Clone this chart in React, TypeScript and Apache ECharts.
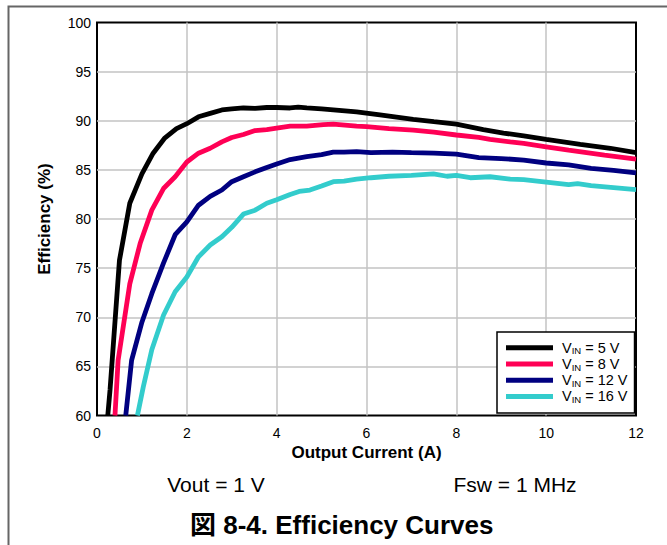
import React, { useEffect, useRef } from "react";
import * as echarts from "echarts";

const vinLabels = ["5", "8", "12", "16"];
const seriesColors = ["#000000", "#FF0055", "#000080", "#33CCCC"];

const vin5: [number, number][] = [
  [0.24, 60], [0.29, 62.6], [0.5, 75.8], [0.73, 81.6], [1.0, 84.6], [1.25, 86.7], [1.5, 88.2],
  [1.77, 89.2], [2.0, 89.7], [2.26, 90.4], [2.52, 90.75], [2.78, 91.1], [3.0, 91.2], [3.26, 91.3],
  [3.52, 91.25], [3.78, 91.35], [4.0, 91.35], [4.3, 91.3], [4.48, 91.38], [4.67, 91.3], [5.0, 91.2],
  [5.26, 91.1], [5.78, 90.9], [6.3, 90.6], [7.04, 90.15], [7.5, 89.9], [8.0, 89.65], [8.6, 89.1],
  [9.05, 88.75], [9.5, 88.45], [10.0, 88.1], [10.76, 87.6], [11.43, 87.2], [12.0, 86.75],
];
const vin8: [number, number][] = [
  [0.4, 60], [0.47, 65.6], [0.73, 73.4], [0.96, 77.5], [1.22, 80.9], [1.48, 83.1], [1.74, 84.3],
  [2.0, 85.8], [2.26, 86.7], [2.52, 87.2], [2.78, 87.85], [3.0, 88.3], [3.26, 88.6], [3.52, 89.0],
  [3.78, 89.1], [4.0, 89.25], [4.3, 89.45], [4.67, 89.45], [5.04, 89.6], [5.26, 89.65], [5.78, 89.45],
  [6.0, 89.4], [6.5, 89.2], [7.04, 89.05], [7.5, 88.85], [8.0, 88.55], [8.5, 88.3], [8.75, 88.1],
  [9.2, 87.85], [9.5, 87.7], [10.0, 87.35], [10.5, 87.0], [11.3, 86.5], [12.0, 86.1],
];
const vin12: [number, number][] = [
  [0.64, 60], [0.77, 65.6], [1.0, 69.5], [1.22, 72.4], [1.48, 75.5], [1.74, 78.4], [2.0, 79.7],
  [2.26, 81.4], [2.52, 82.3], [2.78, 82.95], [3.0, 83.8], [3.26, 84.3], [3.52, 84.8], [3.78, 85.25],
  [4.0, 85.6], [4.3, 86.05], [4.67, 86.35], [5.0, 86.55], [5.26, 86.8], [5.5, 86.8], [5.78, 86.85],
  [6.1, 86.75], [6.58, 86.8], [7.0, 86.75], [7.5, 86.7], [8.0, 86.6], [8.5, 86.25], [9.0, 86.15],
  [9.5, 86.0], [10.0, 85.7], [10.5, 85.5], [11.0, 85.15], [11.5, 84.95], [12.0, 84.7],
];
const vin16: [number, number][] = [
  [0.9, 60], [1.03, 62.9], [1.22, 66.7], [1.48, 70.2], [1.74, 72.6], [2.0, 74.1], [2.26, 76.15],
  [2.52, 77.35], [2.78, 78.2], [3.0, 79.15], [3.26, 80.5], [3.52, 80.9], [3.78, 81.6], [4.0, 81.95],
  [4.3, 82.5], [4.5, 82.8], [4.74, 82.95], [5.0, 83.35], [5.26, 83.8], [5.5, 83.85], [5.78, 84.05],
  [6.1, 84.2], [6.5, 84.35], [7.0, 84.45], [7.49, 84.6], [7.79, 84.35], [8.0, 84.45], [8.31, 84.2],
  [8.75, 84.3], [9.2, 84.05], [9.5, 84.0], [10.0, 83.75], [10.5, 83.5], [10.7, 83.6], [11.0, 83.4],
  [11.5, 83.2], [12.0, 83.0],
];
const seriesData = [vin5, vin8, vin12, vin16];

const xTicks = { min: 0, max: 12, interval: 2 };
const yTicks = { min: 60, max: 100, interval: 5 };

const FONT = "'Liberation Sans', Arial, 'Noto Sans CJK JP', sans-serif";

export default function App() {
  const ref = useRef<HTMLDivElement>(null);
  useEffect(() => {
    document.body.style.margin = "0";
    if (!ref.current) return;
    const chart = echarts.init(ref.current, null, { renderer: "svg" });
    const names = vinLabels.map((v) => `VIN = ${v} V`);
    chart.setOption({
      animation: false,
      textStyle: { fontFamily: FONT },
      title: {
        text: "図 8-4. Efficiency Curves",
        left: 190,
        top: 512,
        padding: 0,
        textStyle: { fontSize: 26, fontWeight: "bold", color: "#000", fontFamily: FONT },
      },
      grid: {
        left: 97,
        right: 31,
        top: 22.5,
        bottom: 129.5,
        show: true,
        borderColor: "#000",
        borderWidth: 2,
        backgroundColor: "#fff",
      },
      xAxis: {
        type: "value",
        min: xTicks.min,
        max: xTicks.max,
        interval: xTicks.interval,
        name: "Output Current (A)",
        nameLocation: "middle",
        nameGap: 26,
        nameTextStyle: { fontSize: 17, fontWeight: "bold", color: "#000", fontFamily: FONT },
        axisLine: { show: false },
        axisTick: { show: false },
        axisLabel: { fontSize: 14, color: "#000", margin: 10, fontFamily: FONT },
        splitLine: {
          show: true,
          showMinLine: false,
          showMaxLine: false,
          lineStyle: { color: "#c3c3c3", width: 1.5 },
        },
      },
      yAxis: {
        type: "value",
        min: yTicks.min,
        max: yTicks.max,
        interval: yTicks.interval,
        name: "Efficiency (%)",
        nameLocation: "middle",
        nameRotate: 90,
        nameGap: 44,
        nameTextStyle: { fontSize: 17, fontWeight: "bold", color: "#000", fontFamily: FONT },
        axisLine: { show: false },
        axisTick: { show: false },
        axisLabel: { fontSize: 14, color: "#000", margin: 6, fontFamily: FONT },
        splitLine: {
          show: true,
          showMinLine: false,
          showMaxLine: false,
          lineStyle: { color: "#c3c3c3", width: 1.5 },
        },
      },
      legend: {
        orient: "vertical",
        left: 497,
        top: 332,
        padding: [8.5, 7, 8.5, 9],
        itemWidth: 47,
        itemHeight: 5,
        itemGap: 1,
        icon: "rect",
        backgroundColor: "#fff",
        borderColor: "#000",
        borderWidth: 1.5,
        data: names,
        formatter: (name: string) => {
          const rest = name.replace("VIN", "");
          return `{f|V}{s|IN}{v|${rest}}`;
        },
        textStyle: {
          fontFamily: FONT,
          rich: {
            f: { fontSize: 14.5, lineHeight: 16, color: "#000", padding: [0, 0, 0, 4], fontFamily: FONT },
            v: { fontSize: 14.5, lineHeight: 16, color: "#000", fontFamily: FONT },
            s: { fontSize: 9.5, lineHeight: 9, verticalAlign: "bottom", color: "#000", fontFamily: FONT },
          },
        },
      },
      graphic: [
        {
          type: "rect",
          shape: { x: 8.5, y: 6.5, width: 720, height: 620 },
          style: { fill: "none", stroke: "#666", lineWidth: 2 },
          silent: true,
          z: -10,
        },
        {
          type: "text",
          x: 216,
          y: 484,
          style: {
            text: "Vout = 1 V",
            fontSize: 21,
            fontFamily: FONT,
            fill: "#000",
            align: "center",
            verticalAlign: "middle",
          },
        },
        {
          type: "text",
          x: 515,
          y: 484,
          style: {
            text: "Fsw = 1 MHz",
            fontSize: 21,
            fontFamily: FONT,
            fill: "#000",
            align: "center",
            verticalAlign: "middle",
          },
        },
      ],
      series: seriesData.map((d, i) => ({
        name: names[i],
        type: "line",
        data: d,
        showSymbol: false,
        symbol: "none",
        clip: true,
        color: seriesColors[i],
        lineStyle: { color: seriesColors[i], width: 4.8 },
        itemStyle: { color: seriesColors[i] },
        z: 3 + (3 - i),
      })),
    });
    return () => chart.dispose();
  }, []);
  return <div ref={ref} style={{ width: 667, height: 545 }} />;
}
